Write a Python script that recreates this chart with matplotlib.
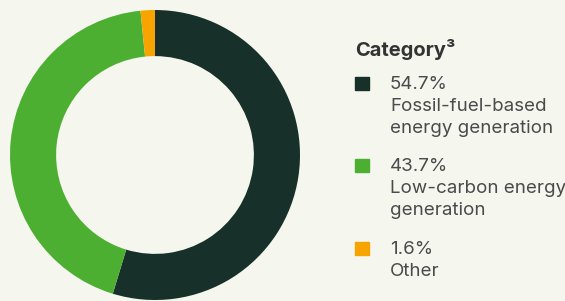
import matplotlib.pyplot as plt

categories = ["Fossil-fuel-based\nenergy generation", "Low-carbon energy\ngeneration", "Other"]
shares = [54.7, 43.7, 1.6]
colors = ["#17302a", "#4caf32", "#f7a400"]

BG = "#f5f7ef"
W, H = 565, 301

fig = plt.figure(figsize=(W / 100, H / 100), dpi=100)
fig.patch.set_facecolor(BG)

# donut: centre (155,155) px, outer radius 145 px
cx, cy, r = 155, 155, 145
ax = fig.add_axes([(cx - r) / W, (H - cy - r) / H, 2 * r / W, 2 * r / H])
ax.pie(shares, colors=colors, startangle=90, counterclock=False,
       radius=1.0, wedgeprops=dict(width=0.318, edgecolor="none"))
ax.set_xlim(-1, 1)
ax.set_ylim(-1, 1)
ax.set_aspect("equal")
ax.axis("off")

font = "Inter"
fig.text(355 / W, 1 - 56 / H, "Category³", fontsize=14.5, fontweight="bold",
         color="#333333", family=font, va="baseline")

square_tops = [77, 159, 242]
for top, val, name, col in zip(square_tops, shares, categories, colors):
    fig.patches.append(plt.Rectangle((355 / W, 1 - (top + 13) / H), 14 / W, 13 / H,
                                     transform=fig.transFigure, color=col))
    fig.text(390 / W, 1 - (top - 1) / H, f"{val}%\n{name}", fontsize=13.5,
             color="#4a4a4a", family=font, va="top", linespacing=1.38)

fig.savefig("out.png", dpi=100, facecolor=BG)
